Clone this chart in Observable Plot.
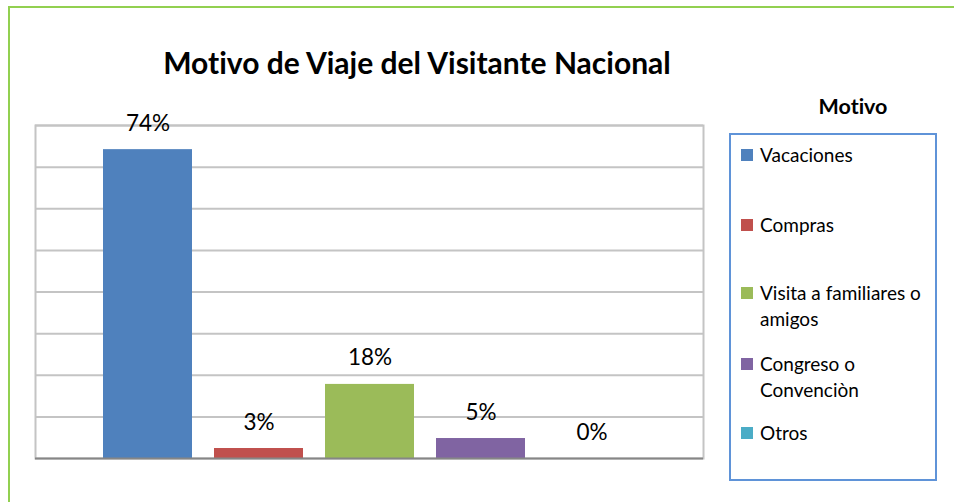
<!DOCTYPE html>
<html>
<head>
<meta charset="utf-8">
<script src="https://cdn.jsdelivr.net/npm/d3@7"></script>
<script src="https://cdn.jsdelivr.net/npm/@observablehq/plot@0.6"></script>
<style>
  html, body { margin: 0; padding: 0; background: #fff; }
  #wrap { position: relative; width: 954px; height: 502px; overflow: hidden; font-family: Lato, "Open Sans", sans-serif; color: #000; font-variant-ligatures: none; }
  #frame { position: absolute; left: 8px; top: 6px; width: 980px; height: 520px; border: 2px solid #92d050; box-sizing: border-box; }
  #title { position: absolute; left: 0; width: 834px; top: 44px; text-align: center; font-weight: 700; font-size: 30px; line-height: 36px; }
  #chart { position: absolute; left: 0; top: 0; }
  #chart text { font-variant-ligatures: none; }
  #legendTitle { position: absolute; left: 753px; width: 200px; top: 92px; text-align: center; font-weight: 700; font-size: 21.5px; line-height: 28px; }
  #legend { position: absolute; left: 729px; top: 133px; width: 208px; height: 348px; border: 2px solid #5f93d8; box-sizing: border-box; }
  .item { position: absolute; left: 10px; font-size: 19px; line-height: 26px; padding-left: 19px; width: 180px; }
  .sw { position: absolute; left: 0; top: 7px; width: 12px; height: 12px; }
</style>
</head>
<body>
<div id="wrap">
  <div id="frame"></div>
  <div id="chart"></div>
  <div id="title"></div>
  <div id="legendTitle"></div>
  <div id="legend"></div>
</div>
<script>
const chartTitle = "Motivo de Viaje del Visitante Nacional";
const legendTitle = "Motivo";
const categories = ["Vacaciones", "Compras", "Visita a familiares o amigos", "Congreso o Convenciòn", "Otros"];
const legendLines = [["Vacaciones"], ["Compras"], ["Visita a familiares o", "amigos"], ["Congreso o", "Convenciòn"], ["Otros"]];
const values = [74.2, 2.4, 17.8, 4.8, 0];
const valueLabels = ["74%", "3%", "18%", "5%", "0%"];
const colors = ["#4f81bd", "#c0504d", "#9bbb59", "#8064a2", "#4bacc6"];
const gridValues = [10, 20, 30, 40, 50, 60, 70, 80];

const data = categories.map((c, i) => ({cat: c, value: values[i], label: valueLabels[i]}));

document.getElementById("title").textContent = chartTitle;
document.getElementById("legendTitle").textContent = legendTitle;

const chart = Plot.plot({
  width: 954,
  height: 502,
  marginLeft: 35,
  marginRight: 251,
  marginTop: 125,
  marginBottom: 44,
  style: {fontFamily: "Lato, 'Open Sans', sans-serif", background: "transparent", overflow: "visible"},
  x: {type: "band", domain: categories, range: [90.75, 647.5], paddingInner: 0.2, paddingOuter: 0.1, axis: null},
  y: {domain: [0, 80], axis: null},
  color: {domain: categories, range: colors},
  marks: [
    Plot.ruleY(gridValues, {y: d => d, stroke: "#c4c4c4", strokeWidth: 2}),
    Plot.frame({stroke: "#c4c4c4", strokeWidth: 2}),
    Plot.barY(data, {x: "cat", y: "value", fill: "cat"}),
    Plot.ruleY([0], {stroke: "#868686", strokeWidth: 2}),
    Plot.text(data, {x: "cat", y: "value", text: "label", dy: -19, lineAnchor: "bottom", fontSize: 22.5, fill: "#000"})
  ]
});
document.getElementById("chart").appendChild(chart);

const tops = [142, 212, 280, 351, 420];
const legend = document.getElementById("legend");
categories.forEach((c, i) => {
  const it = document.createElement("div");
  it.className = "item";
  it.style.top = (tops[i] - 133 - 2) + "px";
  const sw = document.createElement("span");
  sw.className = "sw";
  sw.style.background = colors[i];
  it.appendChild(sw);
  legendLines[i].forEach((ln, j) => {
    if (j > 0) it.appendChild(document.createElement("br"));
    it.appendChild(document.createTextNode(ln));
  });
  legend.appendChild(it);
});
</script>
</body>
</html>
